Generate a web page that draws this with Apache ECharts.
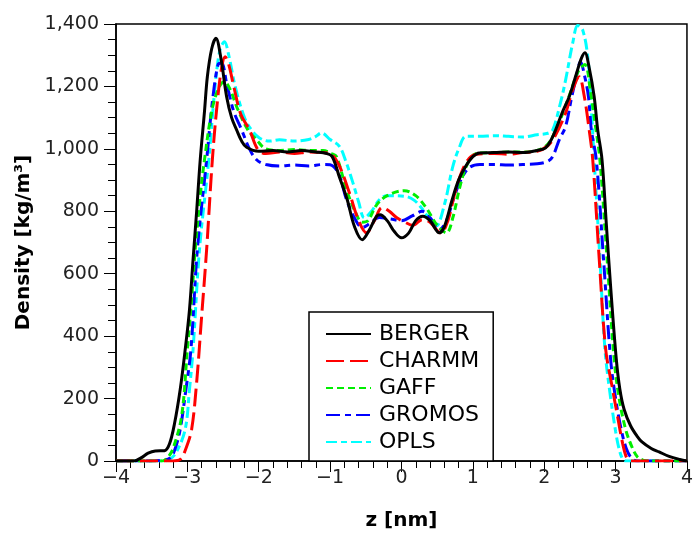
<!DOCTYPE html>
<html>
<head>
<meta charset="utf-8">
<script src="https://cdn.jsdelivr.net/npm/echarts@6/dist/echarts.min.js"></script>
<style>html,body{margin:0;padding:0;background:#fff;}#c{width:696px;height:536px;}</style>
</head>
<body>
<div id="c"></div>
<script>
const seriesNames = ['BERGER', 'CHARMM', 'GAFF', 'GROMOS', 'OPLS'];

const berger = [[-4,0],[-3.75,0],[-3.65,10],[-3.55,25],[-3.45,32],[-3.32,33],[-3.25,55],[-3.18,120],[-3.10,230],[-3.03,358],[-2.97,486],[-2.92,646],[-2.87,800],[-2.82,965],[-2.76,1120],[-2.72,1231],[-2.66,1320],[-2.60,1354],[-2.53,1290],[-2.45,1167],[-2.38,1100],[-2.31,1061],[-2.24,1025],[-2.17,1005],[-2.0,992],[-1.8,995],[-1.6,990],[-1.4,995],[-1.2,990],[-1.05,985],[-0.97,975],[-0.87,910],[-0.76,837],[-0.66,752],[-0.55,709],[-0.45,740],[-0.35,784],[-0.3,789],[-0.2,770],[-0.1,735],[0,715],[0.1,730],[0.2,770],[0.3,784],[0.4,770],[0.53,731],[0.6,750],[0.71,837],[0.8,900],[0.9,944],[1.0,975],[1.09,987],[1.3,988],[1.5,990],[1.7,988],[1.9,995],[2.02,1003],[2.1,1030],[2.16,1061],[2.25,1115],[2.35,1167],[2.45,1240],[2.52,1290],[2.57,1308],[2.63,1260],[2.70,1167],[2.75,1060],[2.81,965],[2.87,760],[2.93,560],[3.01,326],[3.06,230],[3.12,165],[3.21,113],[3.3,80],[3.37,61],[3.5,40],[3.61,29],[3.75,15],[3.9,5],[4.0,0]];

const charmm = [[-4,0],[-3.2,0],[-3.1,5],[-3.02,40],[-2.94,102],[-2.87,252],[-2.80,464],[-2.73,678],[-2.65,965],[-2.58,1150],[-2.52,1260],[-2.47,1295],[-2.42,1270],[-2.35,1200],[-2.25,1110],[-2.13,1061],[-2.01,997],[-1.9,985],[-1.7,990],[-1.5,985],[-1.3,990],[-1.1,988],[-1.0,985],[-0.88,950],[-0.73,859],[-0.6,770],[-0.49,731],[-0.38,770],[-0.27,812],[-0.17,800],[-0.07,780],[0.05,765],[0.16,755],[0.29,773],[0.4,765],[0.55,730],[0.65,770],[0.75,860],[0.85,930],[0.95,970],[1.05,983],[1.3,985],[1.5,983],[1.7,988],[1.9,992],[2.05,1010],[2.15,1040],[2.30,1115],[2.4,1190],[2.49,1231],[2.56,1170],[2.63,1061],[2.68,965],[2.77,650],[2.86,360],[2.95,240],[3.03,140],[3.1,55],[3.16,8],[3.22,0],[4,0]];

const gaff = [[-4,0],[-3.35,0],[-3.28,10],[-3.2,40],[-3.08,145],[-3.0,358],[-2.94,520],[-2.89,678],[-2.82,850],[-2.76,965],[-2.65,1130],[-2.55,1200],[-2.48,1215],[-2.4,1190],[-2.3,1130],[-2.15,1060],[-2.03,1029],[-1.9,1000],[-1.7,995],[-1.5,998],[-1.3,995],[-1.1,995],[-0.98,985],[-0.91,975],[-0.77,869],[-0.65,800],[-0.55,765],[-0.47,770],[-0.35,820],[-0.2,850],[0.04,866],[0.2,850],[0.35,810],[0.5,755],[0.63,731],[0.72,780],[0.82,880],[0.92,950],[1.05,985],[1.3,988],[1.5,990],[1.7,990],[1.9,995],[2.05,1015],[2.2,1080],[2.35,1170],[2.48,1250],[2.57,1270],[2.65,1180],[2.72,1070],[2.78,965],[2.88,650],[2.98,326],[3.05,200],[3.14,102],[3.22,50],[3.3,15],[3.38,3],[3.45,0],[4,0]];

const gromos = [[-4,0],[-3.55,0],[-3.35,3],[-3.24,10],[-3.17,40],[-3.10,102],[-3.02,230],[-2.95,358],[-2.86,678],[-2.73,965],[-2.65,1150],[-2.57,1270],[-2.52,1275],[-2.45,1210],[-2.35,1120],[-2.24,1061],[-2.13,1000],[-2.03,965],[-1.9,950],[-1.7,945],[-1.5,948],[-1.3,945],[-1.1,950],[-1.0,949],[-0.88,920],[-0.77,837],[-0.65,775],[-0.55,748],[-0.45,760],[-0.31,780],[-0.15,775],[0,770],[0.15,785],[0.29,800],[0.4,780],[0.53,741],[0.63,770],[0.73,840],[0.83,900],[0.95,940],[1.1,950],[1.3,950],[1.5,948],[1.7,950],[1.9,952],[2.05,960],[2.12,976],[2.21,1029],[2.30,1072],[2.38,1160],[2.44,1221],[2.51,1279],[2.56,1240],[2.62,1167],[2.66,1061],[2.73,965],[2.83,650],[2.93,326],[3.0,200],[3.08,100],[3.15,40],[3.22,10],[3.3,0],[4,0]];

const opls = [[-4,0],[-3.35,0],[-3.25,5],[-3.15,30],[-3.03,102],[-2.97,230],[-2.92,358],[-2.83,678],[-2.70,965],[-2.62,1180],[-2.55,1310],[-2.48,1343],[-2.42,1300],[-2.33,1200],[-2.2,1100],[-2.1,1060],[-1.99,1035],[-1.85,1025],[-1.71,1029],[-1.5,1025],[-1.3,1030],[-1.2,1040],[-1.12,1051],[-1.0,1030],[-0.87,1008],[-0.78,960],[-0.68,891],[-0.6,830],[-0.52,779],[-0.42,800],[-0.31,837],[-0.2,850],[0.05,848],[0.18,835],[0.30,805],[0.48,752],[0.6,820],[0.72,944],[0.82,1010],[0.90,1040],[1.1,1040],[1.3,1042],[1.5,1040],[1.7,1038],[1.9,1045],[2.05,1050],[2.12,1061],[2.22,1140],[2.30,1221],[2.4,1340],[2.47,1395],[2.54,1380],[2.61,1295],[2.65,1167],[2.70,965],[2.78,650],[2.85,360],[2.92,220],[3.0,95],[3.05,38],[3.1,6],[3.15,0],[4,0]];

const allData = [berger, charmm, gaff, gromos, opls];
const colors = ['#000000', '#ff0000', '#00ee00', '#0000ff', '#00ffff'];
const dashes = ['solid', [18, 6], [7, 4], [14, 5, 6, 5], [11, 4, 6, 4]];

const FONT = 'DejaVu Sans';
const chart = echarts.init(document.getElementById('c'), null, {renderer: 'canvas'});
chart.setOption({
  animation: false,
  backgroundColor: '#fff',
  grid: {left: 116, right: 8, top: 24, bottom: 74, show: true, borderColor: '#000', borderWidth: 1.5, backgroundColor: 'transparent'},
  legend: {
    data: seriesNames,
    orient: 'vertical',
    left: 309, top: 312,
    padding: [11, 14, 8, 16],
    borderColor: '#000', borderWidth: 1.5,
    backgroundColor: '#fff',
    itemWidth: 45, itemHeight: 18, itemGap: 5,
    itemStyle: {opacity: 0},
    textStyle: {fontFamily: FONT, fontSize: 22, color: '#000', padding: [0, 0, 0, 3]}
  },
  xAxis: {
    type: 'value', min: -4, max: 4, interval: 1,
    name: 'z [nm]', nameLocation: 'middle', nameGap: 50,
    nameTextStyle: {fontFamily: FONT, fontSize: 20, fontWeight: 'bold', color: '#000'},
    axisLine: {onZero: false, lineStyle: {color: '#000', width: 1.5}},
    axisTick: {inside: false, length: 11, lineStyle: {color: '#000', width: 1}},
    minorTick: {show: true, splitNumber: 5, length: 7, lineStyle: {color: '#000', width: 1}},
    splitLine: {show: false},
    axisLabel: {fontFamily: FONT, fontSize: 19, color: '#222', margin: 8,
      formatter: v => (v < 0 ? '\u2212' + Math.abs(v) : String(v))}
  },
  yAxis: {
    type: 'value', min: 0, max: 1400, interval: 200,
    name: 'Density [kg/m\u00b3]', nameLocation: 'middle', nameGap: 74, nameRotate: 90,
    nameTextStyle: {fontFamily: FONT, fontSize: 20, fontWeight: 'bold', color: '#000'},
    axisLine: {show: true, onZero: false, lineStyle: {color: '#000', width: 1.5}},
    axisTick: {show: true, inside: false, length: 12, lineStyle: {color: '#000', width: 1}},
    minorTick: {show: true, splitNumber: 4, length: 8, lineStyle: {color: '#000', width: 1}},
    splitLine: {show: false},
    axisLabel: {fontFamily: FONT, fontSize: 19, color: '#222', margin: 17,
      formatter: v => v.toLocaleString('en-US')}
  },
  series: seriesNames.map((n, i) => ({
    name: n, type: 'line', data: allData[i], smooth: 0.35, showSymbol: false, symbol: 'none',
    lineStyle: {color: colors[i], width: 3, type: dashes[i]},
    itemStyle: {color: colors[i]},
    z: 10 - i
  }))
});
</script>
</body>
</html>
